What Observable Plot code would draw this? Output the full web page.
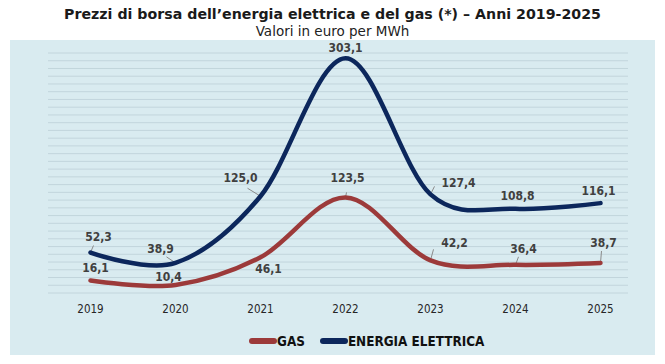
<!DOCTYPE html>
<html>
<head>
<meta charset="utf-8">
<script src="https://cdn.jsdelivr.net/npm/d3@7"></script>
<script src="https://cdn.jsdelivr.net/npm/@observablehq/plot@0.6"></script>
<style>
  html, body { margin: 0; padding: 0; background: #ffffff; }
  body { width: 665px; height: 364px; position: relative; overflow: hidden;
         font-family: "DejaVu Sans Condensed", "DejaVu Sans", sans-serif; font-stretch: condensed; color: #1a1a1a; }
  #title { position: absolute; top: 4px; left: 0; width: 665px; text-align: center;
           font-family: "DejaVu Sans", sans-serif; font-stretch: normal;
           font-weight: bold; font-size: 14.2px; line-height: 20px; }
  #subtitle { position: absolute; top: 22px; left: 0; width: 665px; text-align: center;
           font-family: "DejaVu Sans", sans-serif; font-stretch: normal;
           font-size: 13.5px; line-height: 18px; color: #222; }
  #panel { position: absolute; left: 10px; top: 40px; width: 645px; height: 315px; background: #d9ebf0; }
  #chart { position: absolute; left: 0; top: 0; }
  #legend { position: absolute; left: 249px; top: 331px; height: 20px; display: flex;
            align-items: center; font-weight: bold; font-size: 13.4px; color: #111; }
  .item { display: flex; align-items: center; margin-right: 15px; }
  .sw { width: 28px; height: 6px; border-radius: 3px; }
</style>
</head>
<body>
<div id="title">Prezzi di borsa dell’energia elettrica e del gas (*) – Anni 2019-2025</div>
<div id="subtitle">Valori in euro per MWh</div>
<div id="panel"><div id="chart"></div></div>
<div id="legend"></div>
<script>
// ---- data ----
const years = [2019, 2020, 2021, 2022, 2023, 2024, 2025];
const gas = [16.1, 10.4, 46.1, 123.5, 42.2, 36.4, 38.7];
const elettrica = [52.3, 38.9, 125.0, 303.1, 127.4, 108.8, 116.1];
const seriesNames = ["GAS", "ENERGIA ELETTRICA"];
const gridTicks = d3.range(0, 311, 10);

// ---- style / layout ----
const colors = {"GAS": "#9c3a3a", "ENERGIA ELETTRICA": "#0c275c"};
const W = 645, H = 285;
const M = {left: 38, right: 27, top: 12.5, bottom: 32.5};
const xDomain = [2019 - 42 / 85, 2025 + 28 / 85];
const yDomain = [0, 310];
const pxX = (W - M.left - M.right) / (xDomain[1] - xDomain[0]);
const pxY = (H - M.top - M.bottom) / (yDomain[1] - yDomain[0]);
// label offsets in pixels [dx, dy] and leader offsets
const labelOffsets = {
  "ENERGIA ELETTRICA": [[8, -15], [-15, -14], [-20, -18], [0, -10], [28, -11], [2, -13], [-2, -12]],
  "GAS": [[5, -12], [-7, -8], [8, 12], [2, -19], [24, -17], [8, -16], [3, -20]]
};
const leaders = {
  "ENERGIA ELETTRICA": [[3, -7], [-9, -6], [-13, -8], null, [4, -8], null, null],
  "GAS": [null, null, null, [1, -5], [3, -11], [3, -8], [1, -12]]
};

const rows = [];
seriesNames.forEach(s => {
  const vals = s === "GAS" ? gas : elettrica;
  years.forEach((y, i) => rows.push({series: s, year: y, value: vals[i], i}));
});
const fmt = v => v.toFixed(1).replace(".", ",");

const labelRows = rows.map(r => {
  const [dx, dy] = labelOffsets[r.series][r.i];
  return {...r, lx: r.year + dx / pxX, ly: r.value - dy / pxY, text: fmt(r.value)};
});
const leaderRows = rows.filter(r => leaders[r.series][r.i]).map(r => {
  const [dx, dy] = leaders[r.series][r.i];
  return {...r, x2: r.year + dx / pxX, y2: r.value - dy / pxY};
});

const chart = Plot.plot({
  width: W, height: H,
  marginLeft: M.left, marginRight: M.right, marginTop: M.top, marginBottom: M.bottom,
  style: {background: "transparent", fontFamily: "'DejaVu Sans Condensed', 'DejaVu Sans', sans-serif", overflow: "visible"},
  x: {domain: xDomain, label: null},
  y: {domain: yDomain, axis: null},
  marks: [
    Plot.ruleY(gridTicks, {stroke: "#c2d5dc", strokeWidth: 1}),
    Plot.axisX({ticks: years, tickFormat: d => String(d), tickSize: 0, tickPadding: 12, fontSize: 11.5,
      fontFamily: "'DejaVu Sans', sans-serif", fill: "#262626", label: null}),
    Plot.link(leaderRows, {x1: "year", y1: "value", x2: "x2", y2: "y2", stroke: "#8a8a8a", strokeWidth: 1}),
    Plot.line(rows, {x: "year", y: "value", z: "series", stroke: d => colors[d.series],
      strokeWidth: 4.5, curve: "cardinal", strokeLinecap: "round", strokeLinejoin: "round"}),
    Plot.text(labelRows, {x: "lx", y: "ly", text: "text", fill: "#404040", fontSize: 12, fontWeight: "bold"})
  ]
});
document.getElementById("chart").appendChild(chart);

const legend = document.getElementById("legend");
seriesNames.forEach(s => {
  const it = document.createElement("div");
  it.className = "item";
  const sw = document.createElement("div");
  sw.className = "sw"; sw.style.background = colors[s];
  const t = document.createElement("span"); t.textContent = s;
  it.appendChild(sw); it.appendChild(t);
  legend.appendChild(it);
});
</script>
</body>
</html>
